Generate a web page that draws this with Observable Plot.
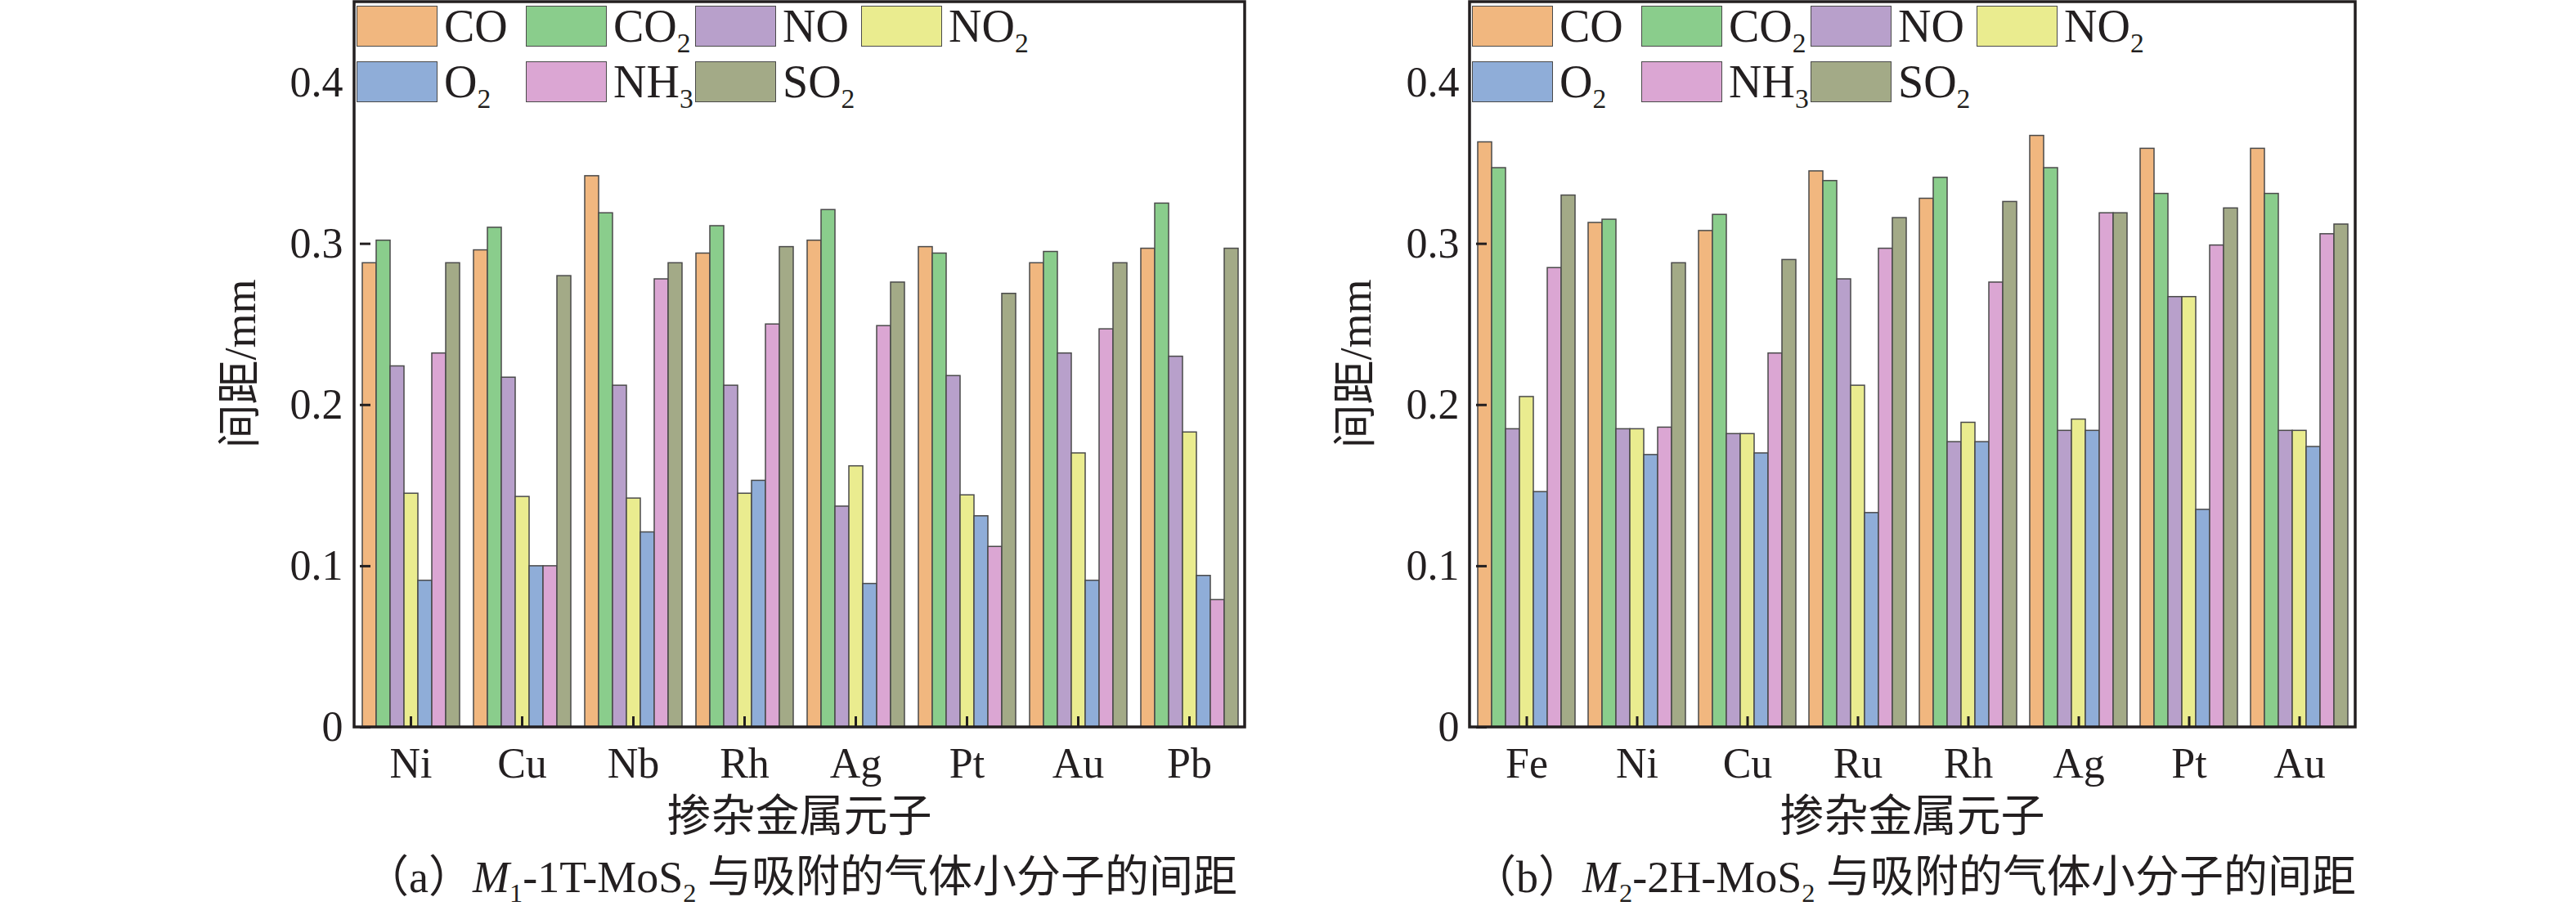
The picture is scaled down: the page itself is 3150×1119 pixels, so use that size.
<!DOCTYPE html>
<html>
<head>
<meta charset="utf-8">
<script src="https://cdn.jsdelivr.net/npm/d3@7"></script>
<script src="https://cdn.jsdelivr.net/npm/@observablehq/plot@0.6"></script>
<style>
  html, body { margin: 0; padding: 0; background: #fff; }
  #page { position: relative; width: 3150px; height: 1119px; overflow: hidden; background: #fff;
          font-family: "Liberation Serif", "Noto Sans CJK SC", serif; color: #231f20; }
  .panel { position: absolute; top: 0; width: 1575px; height: 1119px; }
  .panel svg { position: absolute; left: 0; top: 0; }
  .legend { position: absolute; top: 6px; display: grid; grid-template-columns: 207px 207px 203px 200px; row-gap: 16px; }
  .item { display: flex; align-items: center; height: 52px; }
  .sw { width: 99px; height: 50px; border: 1.5px solid #4a4a4a; box-sizing: border-box; flex: none; }
  .lab { margin-left: 8px; font-size: 56px; line-height: 1; font-family: "Liberation Serif", serif; white-space: nowrap; }
  .lab sub, .cap sub, .ytitle sub { font-size: 0.6em; vertical-align: -0.38em; line-height: 0; }
  .xtitle, .cap, .ytitle { position: absolute; white-space: nowrap; font-size: 54px; line-height: 1;
          font-family: "Liberation Serif", "Noto Sans CJK SC", serif; transform: translate(-50%, -50%); }
  .ytitle { transform: translate(-50%, -50%) rotate(-90deg); }
</style>
</head>
<body>
<div id="page"></div>
<script>
// ---- data ----
const gases = ["CO", "CO2", "NO", "NO2", "O2", "NH3", "SO2"];
const gasLabels = ["CO", "CO<sub>2</sub>", "NO", "NO<sub>2</sub>", "O<sub>2</sub>", "NH<sub>3</sub>", "SO<sub>2</sub>"];
const colors = ["#f1b77f", "#8acd8c", "#b8a0cb", "#eaec8f", "#8fadd8", "#dba6d3", "#a3aa87"];
const yTicks = [0, 0.1, 0.2, 0.3, 0.4];

// (a) M1-1T-MoS2
const metalsA = ["Ni", "Cu", "Nb", "Rh", "Ag", "Pt", "Au", "Pb"];
const CO_A  = [0.288, 0.296, 0.342, 0.294, 0.302, 0.298, 0.288, 0.297];
const CO2_A = [0.302, 0.310, 0.319, 0.311, 0.321, 0.294, 0.295, 0.325];
const NO_A  = [0.224, 0.217, 0.212, 0.212, 0.137, 0.218, 0.232, 0.230];
const NO2_A = [0.145, 0.143, 0.142, 0.145, 0.162, 0.144, 0.170, 0.183];
const O2_A  = [0.091, 0.100, 0.121, 0.153, 0.089, 0.131, 0.091, 0.094];
const NH3_A = [0.232, 0.100, 0.278, 0.250, 0.249, 0.112, 0.247, 0.079];
const SO2_A = [0.288, 0.280, 0.288, 0.298, 0.276, 0.269, 0.288, 0.297];

// (b) M2-2H-MoS2
const metalsB = ["Fe", "Ni", "Cu", "Ru", "Rh", "Ag", "Pt", "Au"];
const CO_B  = [0.363, 0.313, 0.308, 0.345, 0.328, 0.367, 0.359, 0.359];
const CO2_B = [0.347, 0.315, 0.318, 0.339, 0.341, 0.347, 0.331, 0.331];
const NO_B  = [0.185, 0.185, 0.182, 0.278, 0.177, 0.184, 0.267, 0.184];
const NO2_B = [0.205, 0.185, 0.182, 0.212, 0.189, 0.191, 0.267, 0.184];
const O2_B  = [0.146, 0.169, 0.170, 0.133, 0.177, 0.184, 0.135, 0.174];
const NH3_B = [0.285, 0.186, 0.232, 0.297, 0.276, 0.319, 0.299, 0.306];
const SO2_B = [0.330, 0.288, 0.290, 0.316, 0.326, 0.319, 0.322, 0.312];

const xTitle = "掺杂金属元子";
const yTitle = "间距/mm";
const captionA = "（a）<i>M</i><sub>1</sub>-1T-MoS<sub>2</sub> 与吸附的气体小分子的间距";
const captionB = "（b）<i>M</i><sub>2</sub>-2H-MoS<sub>2</sub> 与吸附的气体小分子的间距";

function table(metals, series) {
  const rows = [];
  metals.forEach((m, i) => gases.forEach((g, j) => rows.push({metal: m, gas: g, value: series[j][i]})));
  return rows;
}

function panel(left, metals, series, ml, mr, caption) {
  const W = 1575, H = 1000, mt = 2, mb = 111;
  const div = document.createElement("div");
  div.className = "panel";
  div.style.left = left + "px";
  document.getElementById("page").appendChild(div);

  const data = table(metals, series);
  const chart = Plot.plot({
    width: W, height: H,
    marginLeft: ml, marginRight: mr, marginTop: mt, marginBottom: mb,
    style: {fontFamily: '"Liberation Serif", "Times New Roman", serif', fontSize: "52px", color: "#231f20", background: "transparent", overflow: "visible"},
    fx: {domain: metals, paddingInner: 0.09, paddingOuter: 0.045, label: null},
    x: {domain: gases, padding: 0, axis: null},
    y: {domain: [0, 0.45], label: null},
    color: {domain: gases, range: colors},
    marks: [
      Plot.barY(data, {fx: "metal", x: "gas", y: "value", fill: "gas", stroke: "#4a4a4a", strokeWidth: 1.5}),
      Plot.axisY({ticks: yTicks, tickSize: -13, tickFormat: () => "", strokeWidth: 3, label: null}),
      Plot.axisY({ticks: yTicks, tickSize: 0, tickPadding: 21, tickFormat: d => String(d), label: null}),
      Plot.axisFx({anchor: "bottom", tickSize: -13, tickFormat: () => "", strokeWidth: 3, label: null}),
      Plot.axisFx({anchor: "bottom", tickSize: 0, tickPadding: 25, label: null})
    ]
  });
  div.appendChild(chart);
  // outer frame around the plotting area
  d3.select(chart).append("rect")
    .attr("x", ml).attr("y", mt)
    .attr("width", W - ml - mr).attr("height", H - mt - mb)
    .attr("fill", "none").attr("stroke", "#231f20").attr("stroke-width", 3.5);

  const cx = ml + (W - ml - mr) / 2;
  // legend
  const lg = document.createElement("div");
  lg.className = "legend";
  lg.style.left = (ml + 3) + "px";
  gases.forEach((g, i) => {
    const it = document.createElement("div");
    it.className = "item";
    it.innerHTML = `<div class="sw" style="background:${colors[i]}"></div><div class="lab">${gasLabels[i]}</div>`;
    lg.appendChild(it);
  });
  div.appendChild(lg);

  const xt = document.createElement("div");
  xt.className = "xtitle"; xt.textContent = xTitle;
  xt.style.left = cx + "px"; xt.style.top = "999px";
  div.appendChild(xt);

  const yt = document.createElement("div");
  yt.className = "ytitle"; yt.textContent = yTitle;
  yt.style.left = (ml - 139) + "px"; yt.style.top = "445px";
  div.appendChild(yt);

  const cp = document.createElement("div");
  cp.className = "cap"; cp.innerHTML = caption;
  cp.style.left = (cx + 2) + "px"; cp.style.top = "1073px";
  div.appendChild(cp);
}

panel(0, metalsA, [CO_A, CO2_A, NO_A, NO2_A, O2_A, NH3_A, SO2_A], 433, 53, captionA);
panel(1575, metalsB, [CO_B, CO2_B, NO_B, NO2_B, O2_B, NH3_B, SO2_B], 222, 270, captionB);
</script>
</body>
</html>
